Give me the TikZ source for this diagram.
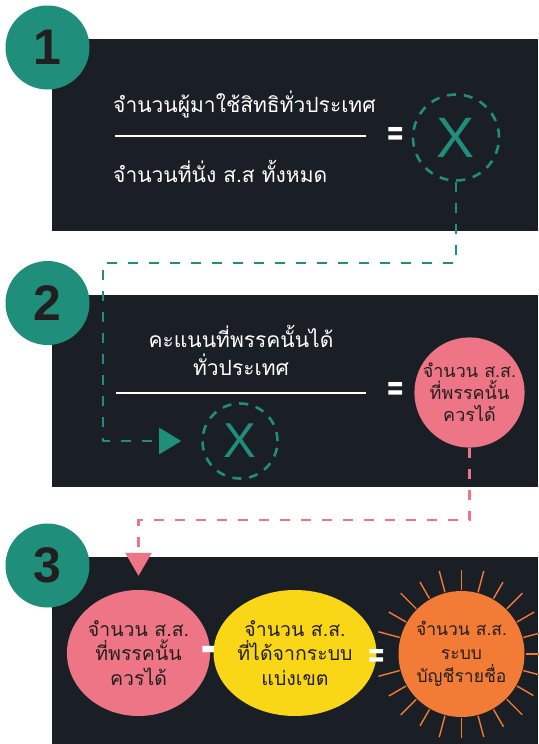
\documentclass[tikz,border=0pt]{standalone}
\usepackage{fontspec}
\usetikzlibrary{shapes.geometric,arrows.meta,calc}
\newfontfamily\thaifont[Script=Thai]{Loma}
\newfontfamily\symfont{DejaVu Sans}
\newfontfamily\digitfont{Liberation Sans}
\definecolor{panelc}{RGB}{26,31,38}
\definecolor{tealc}{RGB}{31,142,122}
\definecolor{pinkc}{RGB}{237,117,133}
\definecolor{yellowc}{RGB}{249,214,22}
\definecolor{orangec}{RGB}{242,123,53}
\definecolor{darkc}{RGB}{35,31,32}
\tikzset{
  panelbox/.style={rectangle, fill=panelc, inner sep=0, anchor=north west},
  badge/.style={circle, fill=tealc, minimum size=84pt, inner sep=0, text=darkc,
    font=\digitfont\bfseries\fontsize{50}{50}\selectfont},
  xcirc/.style={circle, draw=tealc, line width=2.6pt, dash pattern=on 9pt off 7.9pt,
    inner sep=0, text=tealc},
  whitetext/.style={text=white, inner sep=0, font=\thaifont\fontsize{21}{21}\selectfont},
  fracline/.style={draw=white, line width=2.5pt},
  eqsign/.style={text=white, inner sep=0, font=\symfont\bfseries\fontsize{22}{22}\selectfont},
  disc/.style={inner sep=0, text=darkc, align=center},
  tealflow/.style={draw=tealc, line width=2.8pt, dash pattern=on 10pt off 11pt,
    -{Triangle[length=22pt,width=26pt]}},
  pinkflow/.style={draw=pinkc, line width=2.8pt, dash pattern=on 10pt off 11pt,
    -{Triangle[length=23pt,width=26pt]}},
  ray/.style={draw=orangec, line width=1.4pt}
}
\begin{document}
\begin{tikzpicture}[x=1pt,y=-1pt]
\useasboundingbox (0,0) rectangle (538,744);
\fill[white] (0,0) rectangle (538,744);

% panels
\node[panelbox, minimum width=486pt, minimum height=192pt] (p1) at (52,39) {};
\node[panelbox, minimum width=486pt, minimum height=192pt] (p2) at (52,295) {};
\node[panelbox, minimum width=486pt, minimum height=187pt] (p3) at (52,557) {};

% badges
\node[badge] (b1) at (47.5,47.5) {\raisebox{-2pt}{1}};
\node[badge] (b2) at (47.5,303) {\raisebox{-2pt}{2}};
\node[badge] (b3) at (47.5,565.5) {\raisebox{-2pt}{3}};

% panel 1
\node[whitetext, anchor=base west] (t1) at (113,112) {จำนวนผู้มาใช้สิทธิทั่วประเทศ};
\draw[fracline] (115,136) -- (366,136);
\node[whitetext, anchor=base west] (t2) at (113,182) {จำนวนที่นั่ง ส.ส ทั้งหมด};
\node[eqsign] (e1) at (396,136) {\scalebox{1}[1.7]{=}};
\node[xcirc, minimum size=86pt, font=\digitfont\fontsize{57}{57}\selectfont] (x1) at (456,137.5) {X};

% panel 2
\node[whitetext, anchor=base] (t3) at (241,347) {คะแนนที่พรรคนั้นได้};
\node[whitetext, anchor=base] (t4) at (241,375) {ทั่วประเทศ};
\draw[fracline] (116,393) -- (366,393);
\node[eqsign] (e2) at (396,391) {\scalebox{1}[1.7]{=}};
\node[xcirc, minimum size=75pt, font=\digitfont\fontsize{49}{49}\selectfont] (x2) at (240,441) {X};
\node[disc, circle, fill=pinkc, minimum size=109pt, font=\thaifont\fontsize{18}{22}\selectfont] (pc2) at (469.5,392.5) {จำนวน ส.ส.\\ที่พรรคนั้น\\ควรได้};

% panel 3
\node[disc, ellipse, fill=pinkc, minimum width=121pt, minimum height=126pt, font=\thaifont\fontsize{19.5}{24.5}\selectfont] (pc3) at (138.5,653) {จำนวน ส.ส.\\ที่พรรคนั้น\\ควรได้};
\node[eqsign, font=\symfont\bfseries\fontsize{45}{45}\selectfont] (m3) at (215,654) {\scalebox{1.8}[1]{-}};
\node[disc, ellipse, fill=yellowc, minimum width=122pt, minimum height=126pt, font=\thaifont\fontsize{19.5}{24.5}\selectfont] (yc3) at (295,653) {จำนวน ส.ส.\\ที่ได้จากระบบ\\แบ่งเขต};
\node[eqsign] (e3) at (377,658) {\scalebox{1}[1.7]{=}};
\node[disc, circle, fill=orangec, minimum size=126pt, font=\thaifont\fontsize{17.5}{23.5}\selectfont] (oc3) at (461.5,654) {จำนวน ส.ส.\\ระบบ\\บัญชีรายชื่อ};
\foreach \a/\r in {0/84,15/86,30/83,45/86,60/84,75/86,90/84,105/86,120/83,135/86,150/84,165/86,195/86,210/84,225/86,240/83,255/86,270/84,285/86,300/83,315/86,330/84,345/86}{
  \draw[ray] ([shift={(\a:64)}]oc3.center) -- ([shift={(\a:\r)}]oc3.center);
}

% connectors
\coordinate (c1) at (103,263);
\draw[tealflow] (x1.south) |- (c1) |- ([xshift=-20pt]x2.west);
\coordinate (c2) at (138.5,520);
\draw[pinkflow] (pc2.south) |- (c2) -- ([yshift=14pt]pc3.north);
\end{tikzpicture}
\end{document}
